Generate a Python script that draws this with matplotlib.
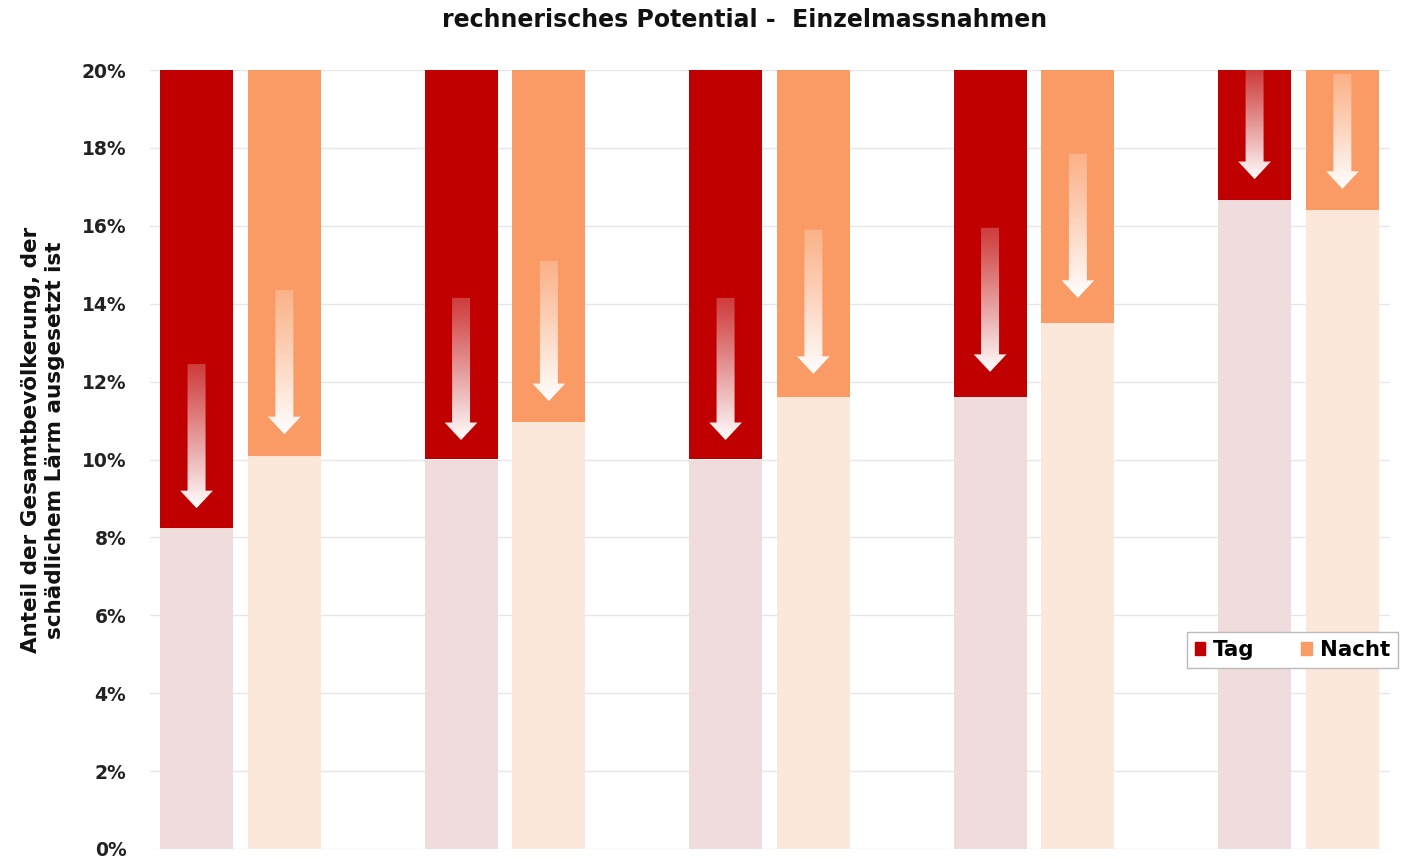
import numpy as np
import matplotlib.pyplot as plt
from matplotlib.patches import Polygon, Patch

plt.rcParams['font.family'] = ['DejaVu Sans']
plt.rcParams['font.weight'] = 'bold'

# Anteil nach Massnahme (in %), Ausgangswert jeweils 20 %
start = 20.0
tag_nachher = [8.25, 10.0, 10.0, 11.6, 16.65]
nacht_nachher = [10.1, 10.95, 11.6, 13.5, 16.4]

# Pfeile: Anfang und Spitze (in %)
tag_pfeil_oben = [12.45, 14.15, 14.15, 15.95, 20.0]
tag_pfeil_unten = [8.75, 10.5, 10.5, 12.25, 17.2]
nacht_pfeil_oben = [14.35, 15.1, 15.9, 17.85, 19.9]
nacht_pfeil_unten = [10.65, 11.5, 12.2, 14.15, 16.95]

yticks = np.arange(0, 21, 2)

rot, rot_hell = '#C00000', '#F0DCDD'
orange, orange_hell = '#FA9A64', '#FCE8DA'

fig = plt.figure(figsize=(14.01, 8.59), dpi=100)
ax = fig.add_axes([150 / 1401, 1 - 849 / 859, 1240 / 1401, 779 / 859])

x = np.arange(len(tag_nachher))
off, w = 0.166, 0.276


def pfeil(ax, xc, oben, unten):
    # Pfeil mit Verlauf von Balkenfarbe nach weiss
    sw, hw, hl = 0.034, 0.062, 0.45
    pts = [(xc - sw, oben), (xc + sw, oben), (xc + sw, unten + hl),
           (xc + hw, unten + hl), (xc, unten), (xc - hw, unten + hl),
           (xc - sw, unten + hl)]
    poly = Polygon(pts, closed=True, facecolor='none', edgecolor='none')
    ax.add_patch(poly)
    grad = np.zeros((100, 1, 4))
    grad[..., :3] = 1.0
    grad[:, 0, 3] = np.linspace(1.0, 0.3, 100) ** 1.2
    im = ax.imshow(grad, extent=(xc - hw, xc + hw, unten, oben),
                   origin='lower', aspect='auto', zorder=4,
                   interpolation='bilinear')
    im.set_clip_path(poly)


for i in x:
    for xc, val, dunkel, hell in [(i - off, tag_nachher[i], rot, rot_hell),
                                   (i + off, nacht_nachher[i], orange, orange_hell)]:
        ax.bar(xc, val, width=w, color=hell, zorder=2)
        ax.bar(xc, start - val, bottom=val, width=w, color=dunkel, zorder=2)
    pfeil(ax, i - off, tag_pfeil_oben[i], tag_pfeil_unten[i])
    pfeil(ax, i + off, nacht_pfeil_oben[i], nacht_pfeil_unten[i])

ax.set_xlim(-0.342, 4.346)
ax.set_ylim(0, 20)
ax.set_yticks(yticks)
ax.set_yticklabels([f'{v}%' for v in yticks], fontsize=13.5, fontweight='bold',
                   color='#222222')
ax.tick_params(axis='y', length=0, pad=17)
ax.set_xticks([])
ax.grid(axis='y', color='#E6E6E6', linewidth=1, zorder=0)
ax.set_axisbelow(True)
for s in ax.spines.values():
    s.set_visible(False)

fig.text(43 / 1401, 1 - 440 / 859,
         'Anteil der Gesamtbevölkerung, der\nschädlichem Lärm ausgesetzt ist',
         rotation=90, ha='center', va='center', fontsize=15.5,
         fontweight='bold', linespacing=1.2, color='#111111')
fig.text(745 / 1401, 1 - 20 / 859, 'rechnerisches Potential -  Einzelmassnahmen',
         ha='center', va='center', fontsize=17, fontweight='bold',
         color='#111111')

handles = [Patch(color=rot, label='Tag'), Patch(color=orange, label='Nacht')]
leg = ax.legend(handles=handles, ncol=2, loc='center right',
                bbox_to_anchor=(1398 / 1401, 1 - 650 / 859),
                bbox_transform=fig.transFigure, fancybox=False,
                framealpha=1, edgecolor='#BBBBBB', handlelength=0.5,
                handleheight=0.5, handletextpad=0.35, columnspacing=2.2,
                borderpad=0.38, borderaxespad=0,
                prop={'weight': 'bold', 'size': 15.4})
leg.set_zorder(10)

fig.savefig('out.png', dpi=100)
